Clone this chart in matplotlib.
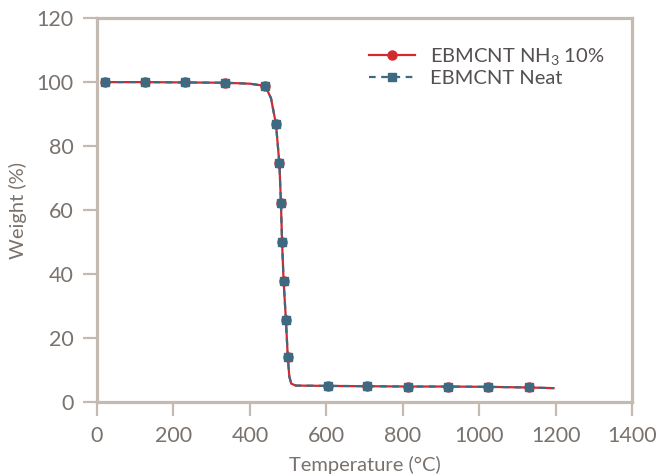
import matplotlib.pyplot as plt
import numpy as np

plt.rcParams['font.family'] = ['Lato', 'DejaVu Sans']
plt.rcParams['mathtext.fontset'] = 'custom'
plt.rcParams['mathtext.rm'] = 'Lato'

# TGA curve (both samples overlap)
temp = [20, 125, 230, 335, 400, 440, 455, 468, 477, 481, 484, 488, 494, 499,
        503, 508, 520, 603, 707, 813, 918, 1022, 1129, 1194]
weight_nh3 = [100.0, 100.0, 99.9, 99.8, 99.5, 98.8, 95.0, 86.9, 74.6, 62.3, 50.1,
              37.9, 25.8, 14.0, 8.0, 5.8, 5.2, 5.1, 5.0, 4.9, 4.9, 4.8, 4.6, 4.4]
weight_neat = [100.0, 100.0, 99.9, 99.8, 99.5, 98.8, 95.0, 86.9, 74.6, 62.3, 50.1,
               37.9, 25.8, 14.0, 8.0, 5.8, 5.2, 5.1, 5.0, 4.9, 4.9, 4.8, 4.6, 4.4]
marker_idx = [0, 1, 2, 3, 5, 7, 8, 9, 10, 11, 12, 13, 17, 18, 19, 20, 21, 22]

red = '#d42a2f'
blue = '#3d6a80'
axis_col = '#c3bab2'
text_col = '#7a726c'

fig = plt.figure(figsize=(6.6, 4.76), dpi=100)
ax = fig.add_axes([0.147, 0.155, 0.811, 0.807])

ax.plot(temp, weight_nh3, color=red, lw=1.6, marker='o', ms=6.5,
        markevery=marker_idx, label='EBMCNT NH$_\\mathrm{3}$ 10%', zorder=3)
ax.plot(temp, weight_neat, color=blue, lw=1.6, ls=(0, (3, 2.5)), marker='s', ms=5.5,
        markevery=marker_idx, label='EBMCNT Neat', zorder=4)

ax.set_xlim(0, 1400)
ax.set_ylim(0, 120)
ax.set_xticks(np.arange(0, 1401, 200))
ax.set_yticks(np.arange(0, 121, 20))

for s in ax.spines.values():
    s.set_color(axis_col)
    s.set_linewidth(2.3)
ax.tick_params(axis='both', colors=axis_col, width=1.6, length=10,
               labelsize=15.5, labelcolor=text_col, pad=7)

ax.set_xlabel('Temperature (°C)', fontsize=14.5, color=text_col, labelpad=7)
ax.set_ylabel('Weight (%)', fontsize=14.5, color=text_col, labelpad=7)

leg = ax.legend(loc='upper right', frameon=False, fontsize=14.5, handlelength=2.3,
                borderaxespad=1.0, labelspacing=0.1, handletextpad=0.7)
for t in leg.get_texts():
    t.set_color('#555050')

fig.savefig('out.png', dpi=100)
